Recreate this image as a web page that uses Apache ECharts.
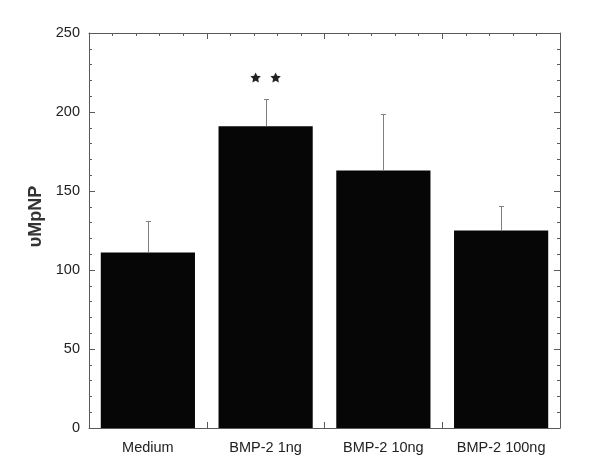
<!DOCTYPE html>
<html><head><meta charset="utf-8">
<script src="https://cdn.jsdelivr.net/npm/echarts@6/dist/echarts.min.js"></script>
<style>html,body{margin:0;padding:0;background:#fff}#c{width:600px;height:476px}</style>
</head><body><div id="c"></div>
<script>
var categories = ['Medium', 'BMP-2 1ng', 'BMP-2 10ng', 'BMP-2 100ng'];
var means = [111, 191, 163, 125];
var errorTops = [131, 208.5, 199, 140.5];
var markCounts = [0, 2, 0, 0];
var markValue = 221.5;
var yTicks = [0, 50, 100, 150, 200, 250];

var chart = echarts.init(document.getElementById('c'), null, {renderer: 'canvas'});
var font = '"Liberation Sans", Arial, sans-serif';
var axisColor = '#5a5a5a';
function starPoints(cx, cy, R, r) {
  var pts = [];
  for (var k = 0; k < 10; k++) {
    var a = -Math.PI / 2 + k * Math.PI / 5;
    var rad = k % 2 === 0 ? R : r;
    pts.push([cx + rad * Math.cos(a), cy + rad * Math.sin(a)]);
  }
  return pts;
}
chart.setOption({
  backgroundColor: '#fff',
  animation: false,
  grid: {left: 89, right: 40, top: 33, bottom: 48, containLabel: false},
  xAxis: [{
    type: 'category', data: categories, position: 'bottom',
    axisLine: {onZero: false, lineStyle: {color: axisColor, width: 1}},
    axisTick: {show: true, inside: true, length: 6, lineStyle: {color: axisColor}},
    axisLabel: {color: '#222', fontFamily: font, fontSize: 14.5, margin: 12}
  }, {
    type: 'value', position: 'top', min: 0, max: categories.length, interval: 1,
    axisLine: {show: true, onZero: false, lineStyle: {color: axisColor, width: 1}},
    axisTick: {show: true, inside: true, length: 6, lineStyle: {color: axisColor}},
    minorTick: {show: true, splitNumber: 5, length: 3, lineStyle: {color: axisColor}},
    axisLabel: {show: false}, splitLine: {show: false}
  }],
  yAxis: [{
    type: 'value', min: yTicks[0], max: yTicks[yTicks.length - 1], interval: 50,
    name: 'υMpNP', nameLocation: 'middle', nameGap: 43,
    nameTextStyle: {fontFamily: font, fontSize: 18, fontWeight: 'bold', color: '#333', padding: [0, 0, 0, 28]},
    axisLine: {show: true, onZero: false, lineStyle: {color: axisColor, width: 1}},
    axisTick: {show: true, inside: true, length: 6, lineStyle: {color: axisColor}},
    minorTick: {show: true, splitNumber: 5, length: 3, lineStyle: {color: axisColor}},
    axisLabel: {color: '#222', fontFamily: font, fontSize: 14.5, margin: 9},
    splitLine: {show: false}
  }, {
    type: 'value', position: 'right', min: yTicks[0], max: yTicks[yTicks.length - 1], interval: 50,
    axisLine: {show: true, onZero: false, lineStyle: {color: axisColor, width: 1}},
    axisTick: {show: true, inside: true, length: 6, lineStyle: {color: axisColor}},
    minorTick: {show: true, splitNumber: 5, length: 3, lineStyle: {color: axisColor}},
    axisLabel: {show: false}, splitLine: {show: false}
  }],
  series: [{
    type: 'bar', data: means, xAxisIndex: 0, yAxisIndex: 0,
    barCategoryGap: '20%',
    itemStyle: {color: '#060606'}
  }, {
    type: 'custom', xAxisIndex: 0, yAxisIndex: 0,
    data: means.map(function (m, i) { return [i, m, errorTops[i]]; }),
    renderItem: function (params, api) {
      var base = api.coord([api.value(0), api.value(1)]);
      var top = api.coord([api.value(0), api.value(2)]);
      var x = Math.round(base[0]) + 0.5;
      var ty = Math.round(top[1]) + 0.5;
      return {type: 'group', children: [
        {type: 'line', shape: {x1: x, y1: base[1], x2: x, y2: ty}, style: {stroke: '#808080', lineWidth: 1}},
        {type: 'line', shape: {x1: x - 2.5, y1: ty, x2: x + 2.5, y2: ty}, style: {stroke: '#808080', lineWidth: 1}}
      ]};
    },
    z: 3
  }, {
    type: 'custom', xAxisIndex: 0, yAxisIndex: 0,
    data: markCounts.map(function (n, i) { return [i, markValue, n]; }),
    renderItem: function (params, api) {
      var n = api.value(2);
      if (!n) return null;
      var p = api.coord([api.value(0), api.value(1)]);
      var children = [];
      for (var k = 0; k < n; k++) {
        var cx = p[0] + (k - (n - 1) / 2) * 20;
        children.push({type: 'polygon', shape: {points: starPoints(cx, p[1], 5.5, 2.7)}, style: {fill: '#222'}});
      }
      return {type: 'group', children: children};
    }
  }]
});
</script></body></html>
